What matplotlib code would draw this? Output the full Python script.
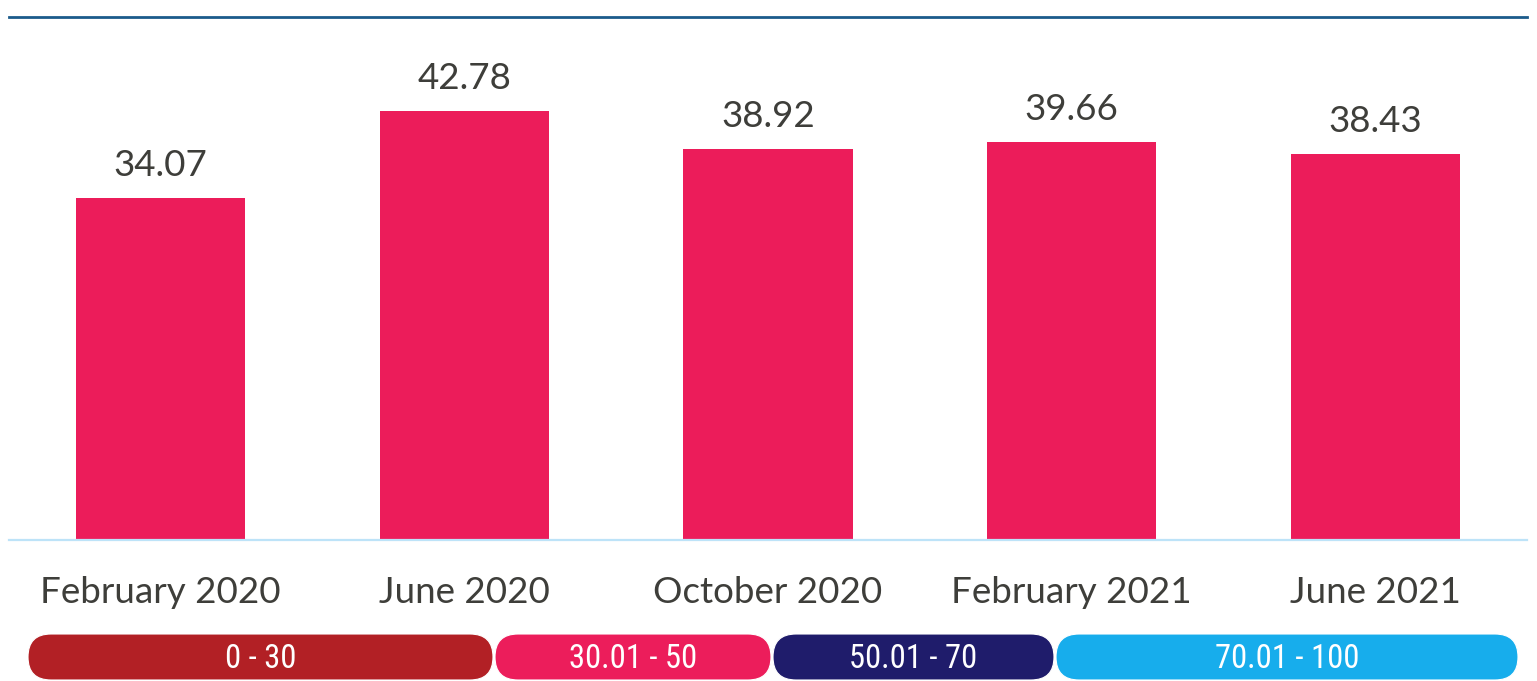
import matplotlib.pyplot as plt
from matplotlib.patches import FancyBboxPatch

# data
periods = ["February 2020", "June 2020", "October 2020", "February 2021", "June 2021"]
scores = [34.07, 42.78, 38.92, 39.66, 38.43]

band_labels = ["0 - 30", "30.01 - 50", "50.01 - 70", "70.01 - 100"]
band_colors = ["#B22025", "#EC1D5B", "#1F1C6B", "#17ADEC"]

bar_color = "#EC1C5A"
text_color = "#3E3E3A"

plt.rcParams['font.family'] = ['Lato', 'DejaVu Sans']

W, H = 1537, 681
fig = plt.figure(figsize=(W / 100, H / 100), dpi=100)

# main bar axes (pixel box 9..1527 x 17..540)
ax = fig.add_axes([9 / W, (H - 540) / H, (1527 - 9) / W, (540 - 17) / H])
x = list(range(len(periods)))
ax.bar(x, scores, width=0.557, color=bar_color, zorder=2)
ax.set_xlim(-0.5, len(periods) - 0.5)
ax.set_ylim(0, 52.1)

for s in ["left", "right"]:
    ax.spines[s].set_visible(False)
ax.spines["top"].set_color("#1B5B8B")
ax.spines["top"].set_linewidth(2.0)
ax.spines["bottom"].set_color("#BDE3F8")
ax.spines["bottom"].set_linewidth(1.6)
ax.set_xticks([])
ax.set_yticks([])

for i, v in enumerate(scores):
    ax.annotate(f"{v:.2f}", xy=(i, v), xytext=(0, 22), textcoords="offset pixels",
                ha="center", va="baseline", fontsize=26.5, color=text_color)
    ax.annotate(periods[i], xy=(i, 0), xytext=(0, -63), textcoords="offset pixels",
                ha="center", va="baseline", fontsize=26.5, color=text_color)

# legend pills in pixel coordinates
lax = fig.add_axes([0, 0, 1, 1])
lax.set_xlim(0, W)
lax.set_ylim(H, 0)
lax.axis("off")
edges = [27, 494, 772, 1055, 1519]
top, hgt = 634, 46
for k, lab in enumerate(band_labels):
    x0, x1 = edges[k], edges[k + 1]
    p = FancyBboxPatch((x0 + 1, top), x1 - x0 - 2, hgt,
                       boxstyle=f"round,pad=0,rounding_size={hgt / 2}",
                       facecolor=band_colors[k], edgecolor="white", linewidth=0.8)
    lax.add_patch(p)
    lax.text((x0 + x1) / 2, top + hgt / 2 + 2, lab, ha="center", va="center",
             fontsize=23.5, color="white",
             family=["Roboto Condensed", "Roboto", "DejaVu Sans"])

fig.savefig("out.png", dpi=100)
